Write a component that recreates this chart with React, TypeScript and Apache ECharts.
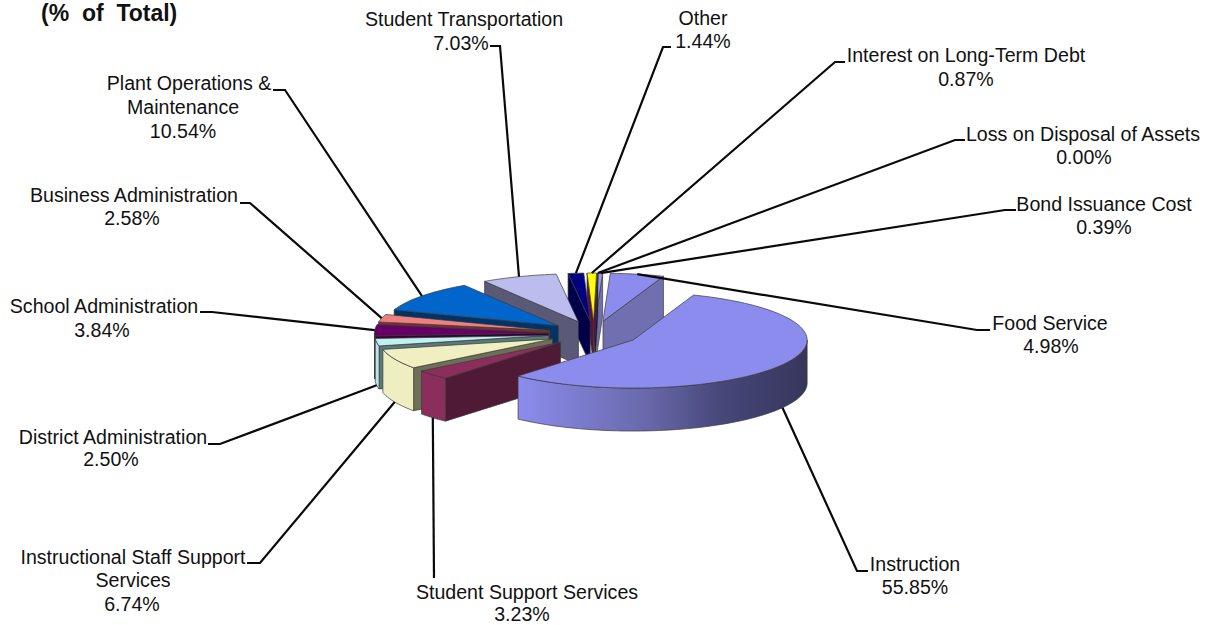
import React, { useEffect, useRef } from "react";
import * as echarts from "echarts";

const categories = [
  "Food Service",
  "Instruction",
  "Student Support Services",
  "Instructional Staff Support\nServices",
  "District Administration",
  "School Administration",
  "Business Administration",
  "Plant Operations &\nMaintenance",
  "Student Transportation",
  "Other",
  "Interest on Long-Term Debt",
  "Loss on Disposal of Assets",
  "Bond Issuance Cost",
];
const percents = [4.98, 55.85, 3.23, 6.74, 2.5, 3.84, 2.58, 10.54, 7.03, 1.44, 0.87, 0.0, 0.39];

const topColors = ["#8c8cee", "#8c8cee", "#8b2e5e", "#efefc2", "#c0f0f0", "#660066", "#f08080", "#0066cc", "#bcbcee", "#000080", "#ffff00", "#000000", "#9a9af0"];
const radialWallColors = ["#7070b0", "#5a5a98", "#4f1a35", "#6f6f58", "#5a7a7a", "#330033", "#7a3030", "#003366", "#5a5a78", "#00004a", "#5a1040", "#000000", "#7070b0"];
const outerWallColors = ["#7070b0", "", "#8b2e5e", "#eeeec0", "#b8e6e6", "#4d004d", "#b06060", "#004c99", "#8a8ab0", "#000060", "#b0b000", "#000000", "#7070b0"];

// pie projection
const PIE_X = 594;
const PIE_Y = 333.6;
const RX = 174;
const RY = 48;
const EXPLODE = 45.6;
const DEPTH = 43;
const START_DEG = 2.4;
const TOTAL = percents.reduce((a, b) => a + b, 0);

// back-to-front painting order (indices into categories)
const paintOrder = [12, 11, 10, 9, 0, 8, 7, 6, 5, 4, 3, 2, 1];

// label placement: one [x, y] centre per text line; elbow = the short horizontal part of the leader
const labelLines: number[][][] = [
  [[1050, 323], [1051, 346]],
  [[915, 564], [915, 587]],
  [[527, 592], [522, 613.5]],
  [[133, 557], [133, 580], [132, 604]],
  [[113, 437], [111, 459]],
  [[104, 306], [102, 330]],
  [[134, 195], [132, 218]],
  [[189, 83], [183, 107], [183, 131]],
  [[464, 19], [461, 43]],
  [[703, 18], [703, 41]],
  [[966, 55], [966, 79]],
  [[1083, 134], [1084, 157]],
  [[1104, 204], [1104, 227]],
];
const elbows: number[][] = [
  [990, 330, 977, 330],
  [868, 571, 857, 571],
  [434, 578, 434, 578],
  [247, 563, 260, 563],
  [208, 444, 220, 444],
  [200, 312, 212, 312],
  [240, 203, 250, 203],
  [273, 90, 285, 90],
  [490, 46, 500, 46],
  [671, 47, 663, 47],
  [845, 62, 835, 62],
  [965, 140, 955, 140],
  [1016, 210, 1005, 210],
];

const rad = (d: number) => (d * Math.PI) / 180;
const bounds = (() => {
  let a = START_DEG;
  return percents.map((p) => {
    const s = a;
    a += (p / TOTAL) * 360;
    return [s, a];
  });
})();
const apexOf = (i: number) => {
  const m = rad((bounds[i][0] + bounds[i][1]) / 2);
  return [PIE_X + EXPLODE * Math.sin(m), PIE_Y - (EXPLODE * RY * Math.cos(m)) / RX];
};
const rimPoint = (c: number[], deg: number, dy = 0) => [
  c[0] + RX * Math.sin(rad(deg)),
  c[1] - RY * Math.cos(rad(deg)) + dy,
];
const arc = (c: number[], a: number, b: number, dy = 0) => {
  const n = Math.max(2, Math.ceil(Math.abs(b - a) / 2));
  const out: number[][] = [];
  for (let k = 0; k <= n; k++) out.push(rimPoint(c, a + ((b - a) * k) / n, dy));
  return out;
};

const edge = { stroke: "#3a3a3a", lineWidth: 0.7 };

const renderSlice = (_: any, api: any) => {
  const i = api.value(0) as number;
  const [s, e] = bounds[i];
  const c = apexOf(i);
  const children: any[] = [];
  const wall = (pts: number[][], fill: any) =>
    children.push({ type: "polygon", shape: { points: pts }, style: { fill, ...edge } });
  const down = (p: number[]) => [p[0], p[1] + DEPTH];
  const norm = (d: number) => ((d % 360) + 360) % 360;

  // radial walls facing the viewer
  if (Math.sin(rad(norm(s))) < 0) {
    const p = rimPoint(c, s);
    wall([c, p, down(p), down(c)], radialWallColors[i]);
  }
  if (Math.sin(rad(norm(e))) > 0) {
    const p = rimPoint(c, e);
    wall([c, p, down(p), down(c)], radialWallColors[i]);
  }
  // outer curved wall on the front half
  const a = Math.max(s, 90);
  const b = Math.min(e, 270);
  if (b > a) {
    const fill =
      outerWallColors[i] ||
      new echarts.graphic.LinearGradient(0, 0, 1, 0, [
        { offset: 0, color: "#8c8cee" },
        { offset: 0.45, color: "#6868aa" },
        { offset: 0.7, color: "#47477a" },
        { offset: 1, color: "#36365c" },
      ]);
    wall([...arc(c, a, b), ...arc(c, b, a, DEPTH)], fill);
  }
  // top face
  children.push({
    type: "polygon",
    shape: { points: [c, ...arc(c, s, e)] },
    style: { fill: topColors[i], ...edge },
  });
  return { type: "group", children };
};

const renderLabel = (_: any, api: any) => {
  const i = api.value(0) as number;
  const value = api.value(1) as number;
  const [s, e] = bounds[i];
  const mid = (s + e) / 2;
  const tip = rimPoint(apexOf(i), mid, Math.cos(rad(mid)) < 0 ? DEPTH : 0);
  const el = elbows[i];
  const texts = [...categories[i].split("\n"), `${value.toFixed(2)}%`];
  return {
    type: "group",
    children: [
      {
        type: "polyline",
        shape: { points: [[el[0], el[1]], [el[2], el[3]], tip] },
        style: { stroke: "#0a0a0a", lineWidth: 2.2, fill: "none" },
      },
      ...texts.map((t, k) => ({
        type: "text",
        x: labelLines[i][k][0],
        y: labelLines[i][k][1],
        style: {
          text: t,
          fill: "#111111",
          font: '19.6px "Liberation Sans", Arial, sans-serif',
          align: "center",
          verticalAlign: "middle",
        },
      })),
    ],
  };
};

export default function App() {
  const ref = useRef<HTMLDivElement>(null);
  useEffect(() => {
    const chart = echarts.init(ref.current!, undefined, { renderer: "svg" });
    chart.setOption({
      animation: false,
      backgroundColor: "#ffffff",
      title: {
        text: "(%  of  Total)",
        left: 41,
        top: 2.5,
        padding: 0,
        textStyle: {
          fontFamily: '"Liberation Sans", Arial, sans-serif',
          fontWeight: "bold",
          fontSize: 23,
          lineHeight: 20,
          color: "#111111",
        },
      },
      series: [
        {
          type: "custom",
          coordinateSystem: "none",
          silent: true,
          clip: false,
          z: 2,
          renderItem: renderSlice,
          data: paintOrder.map((i) => ({ name: categories[i], value: [i, percents[i]] })),
        },
        {
          type: "custom",
          coordinateSystem: "none",
          silent: true,
          clip: false,
          z: 3,
          renderItem: renderLabel,
          data: categories.map((n, i) => ({ name: n, value: [i, percents[i]] })),
        },
      ],
    });
    return () => chart.dispose();
  }, []);
  return <div ref={ref} style={{ position: "fixed", left: 0, top: 0, width: 1217, height: 625 }} />;
}
